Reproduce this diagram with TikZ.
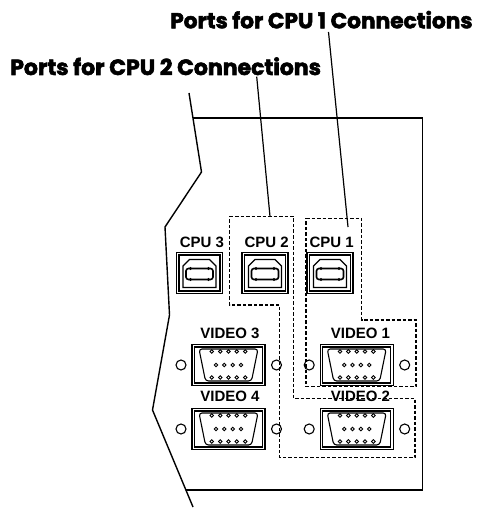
\documentclass[tikz,border=0pt]{standalone}
\usepackage{fontspec}
\setmainfont{Liberation Sans}
\newfontfamily\titlefont[BoldFeatures={FakeBold=2.5}]{Poppins}
\tikzset{
  panel/.style={line width=1.4pt},
  leader/.style={line width=1.2pt},
  portline/.style={line width=1.1pt},
  pin/.style={line width=0.9pt},
  group/.style={line width=1.3pt, dash pattern=on 3.5pt off 2pt},
  portlabel/.style={font=\fontsize{15}{15}\selectfont\bfseries, inner sep=0pt, anchor=base},
  titlelabel/.style={font=\titlefont\fontsize{21.7}{21.7}\selectfont\bfseries, inner sep=0pt, anchor=base west},
}
% USB-B socket, centred at #1
\newcommand{\usbport}[1]{%
  \begin{scope}[shift={#1}]
    \draw[portline] (-23,-20.5) rectangle (23,20.5);
    \draw[portline] (-20.5,-18) rectangle (20.5,18);
    \draw[portline] (-16.5,14.5) -- (-16.5,-7) -- (-10,-13.5) -- (10,-13.5) -- (16.5,-7) -- (16.5,14.5) -- cycle;
    \draw[line width=1.6pt,rounded corners=2.5pt] (-13.5,-4.5) rectangle (13.5,6.5);
    \foreach \bx in {-9,9} {\fill (\bx,-4.5) circle (1.6pt); \fill (\bx,6.5) circle (1.6pt);}
  \end{scope}}
% VGA socket with its two screw holes, centred at #1
\newcommand{\vgaport}[1]{%
  \begin{scope}[shift={#1}]
    \draw[portline] (-36.5,-20.5) rectangle (36.5,20.5);
    \draw[portline] (-34,-18) rectangle (34,18);
    \draw[portline,rounded corners=3pt] (-29.5,-16) -- (29.5,-16) -- (23,16) -- (-23,16) -- cycle;
    \foreach \px in {-16.7,-8.3,0,8.3,16.7} {\draw[pin] (\px,-13.5) circle (1.8pt); \draw[pin] (\px,12.5) circle (1.8pt);}
    \foreach \px in {-12.5,-4.2,4.2,12.5} \draw[pin] (\px,0) circle (1.8pt);
    \draw[portline] (-47.5,0) circle (5pt) (48,0) circle (5pt);
  \end{scope}}

\begin{document}
\begin{tikzpicture}[x=1pt,y=-1pt]
\useasboundingbox (0,0) rectangle (478,510);

% titles
\node[titlelabel] (titleone) at (170,28.3) {Ports for CPU 1 Connections};
\node[titlelabel,font=\titlefont\fontsize{22}{22}\selectfont\bfseries] (titletwo) at (10,75) {Ports for CPU 2 Connections};

% panel outline
\draw[panel] (189,93) -- (201.5,172) -- (165,227) -- (169.5,315) -- (152.5,410) -- (193,507);
\draw[panel] (193,118) -- (422.5,118) -- (422.5,490) -- (186,490);

% usb ports
\usbport{(199.5,273)}
\usbport{(265,273)}
\usbport{(330,273)}
\node[portlabel] (cputhree) at (202,247.3) {CPU 3};
\node[portlabel] (cputwo) at (266.7,247.3) {CPU 2};
\node[portlabel] (cpuone) at (331.7,247.3) {CPU 1};

% video ports
\vgaport{(228.5,365)}
\vgaport{(228.5,429)}
\vgaport{(356.7,365)}
\vgaport{(356.7,429)}
\node[portlabel] (videothree) at (230,338.3) {VIDEO 3};
\node[portlabel] (videofour) at (230,401.7) {VIDEO 4};
\node[portlabel] (videoone) at (360.5,338.3) {VIDEO 1};
\node[portlabel] (videotwo) at (360.5,401.7) {VIDEO 2};

% port groups
\draw[group] (229.5,216.5) -- (293.5,216.5) -- (293.5,398.5) -- (415,398.5) -- (415,457.5) -- (279.5,457.5) -- (279.5,305) -- (229.5,305) -- cycle;
\draw[group] (306,218.5) -- (361.5,218.5) -- (361.5,320) -- (416,320) -- (416,386.5) -- (306,386.5) -- cycle;

% leaders
\coordinate (onetop) at (328.5,32);
\coordinate (onebox) at (348,227);
\coordinate (twotop) at (256.7,76.7);
\coordinate (twobox) at (270,216.5);
\draw[leader] (onetop) -- (onebox);
\draw[leader] (twotop) -- (twobox);
\end{tikzpicture}
\end{document}
